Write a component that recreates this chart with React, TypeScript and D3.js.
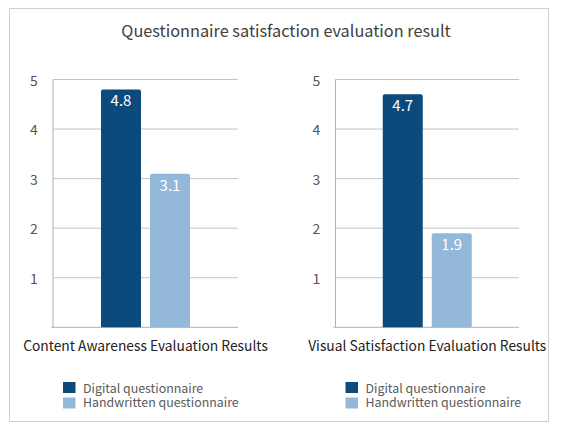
import React from "react";
import * as d3 from "d3";

const categories = ["Content Awareness Evaluation Results", "Visual Satisfaction Evaluation Results"];
const seriesNames = ["Digital questionnaire", "Handwritten questionnaire"];
const digitalValues = [4.8, 4.7];
const handwrittenValues = [3.1, 1.9];
const yTicks = [1, 2, 3, 4, 5];
const colors = ["#0c4a7b", "#94b8d9"];

const W = 567;
const H = 433;
const FONT = "'Noto Sans CJK KR', 'Noto Sans', sans-serif";

function roundedTopBar(x: number, y: number, w: number, h: number, r: number) {
  const p = d3.path();
  p.moveTo(x, y + h);
  p.lineTo(x, y + r);
  p.quadraticCurveTo(x, y, x + r, y);
  p.lineTo(x + w - r, y);
  p.quadraticCurveTo(x + w, y, x + w, y + r);
  p.lineTo(x + w, y + h);
  p.closePath();
  return p.toString();
}

function Panel({ idx, x0, x1 }: { idx: number; x0: number; x1: number }) {
  const y = d3.scaleLinear().domain([0, 5]).range([327.3, 79.5]);
  const cx = (x0 + x1) / 2;
  const band = d3
    .scaleBand()
    .domain(seriesNames)
    .range([cx - 44.5, cx + 44.5])
    .paddingInner(9 / 49)
    .paddingOuter(0);
  const vals = [digitalValues[idx], handwrittenValues[idx]];
  const legX = x0 + 10;
  return (
    <g>
      {yTicks.map((t) => (
        <g key={t}>
          <line x1={x0} x2={x1} y1={y(t)} y2={y(t)} stroke="#c4c4c4" strokeWidth={1} />
          <text x={x0 - 19} y={y(t) + 6} textAnchor="middle" fontSize={14} fill="#555" fontFamily={FONT}>
            {t}
          </text>
        </g>
      ))}
      <line x1={x0} x2={x0} y1={y(5)} y2={y(0)} stroke="#b0b0b0" />
      <line x1={x0 - 2} x2={x1} y1={y(0)} y2={y(0)} stroke="#b0b0b0" />
      {seriesNames.map((s, i) => {
        const bx = band(s)!;
        const bw = band.bandwidth();
        const top = y(vals[i]);
        return (
          <g key={s}>
            <path d={roundedTopBar(bx, top, bw, y(0) - top, 2)} fill={colors[i]} />
            <text x={bx + bw / 2} y={top + 17} textAnchor="middle" fontSize={15} fill="#fff" fontFamily={FONT}>
              {vals[i]}
            </text>
          </g>
        );
      })}
      <text x={cx} y={351} textAnchor="middle" fontSize={13.8} fill="#222" fontFamily={FONT}>
        {categories[idx]}
      </text>
      {seriesNames.map((s, i) => (
        <g key={s}>
          <rect x={legX} y={382 + i * 15.5} width={12.5} height={11} fill={colors[i]} />
          <text x={legX + 20} y={393 + i * 14} fontSize={12.4} fill="#5a5a5a" fontFamily={FONT}>
            {s}
          </text>
        </g>
      ))}
    </g>
  );
}

export default function App() {
  return (
    <svg width={W} height={H} style={{ position: "absolute", left: 0, top: 0, background: "#fff" }}>
      <rect x={9.5} y={8.5} width={539} height={413} fill="#fff" stroke="#cfcfcf" />
      <text x={286} y={37} textAnchor="middle" fontSize={16.3} fill="#404040" fontFamily={FONT}>
        Questionnaire satisfaction evaluation result
      </text>
      <Panel idx={0} x0={53} x1={238} />
      <Panel idx={1} x0={335.5} x1={519} />
    </svg>
  );
}
